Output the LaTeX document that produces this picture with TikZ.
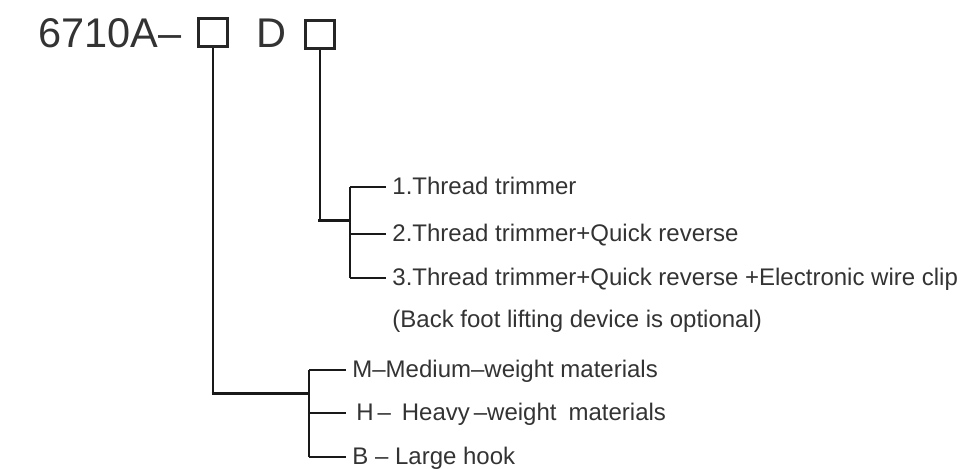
\documentclass[tikz,border=0pt]{standalone}
\usepackage{fontspec}
\setmainfont{Liberation Sans}
\usetikzlibrary{positioning}

\begin{document}
\begin{tikzpicture}[
      x=0.5pt, y=-0.5pt,
      every node/.style={text=black!80},
      titletext/.style={font=\fontsize{20.75pt}{24pt}\selectfont, inner sep=0pt},
      codebox/.style={draw=black!85, line width=1.5pt, minimum width=14.5pt, minimum height=14pt, inner sep=0pt},
      optlabel/.style={font=\fontsize{12pt}{14pt}\selectfont, anchor=west, inner ysep=0pt, inner xsep=3pt, text height=9pt, text depth=2pt},
      stem/.style={draw=black!90, line width=1pt},
      joinline/.style={draw=black!90, line width=1.5pt},
      branch/.style={draw=black!90, line width=1pt}
    ]
      \useasboundingbox (0,0) rectangle (961,468);

      % model code
      \node[titletext, anchor=base west] (model) at (38,47) {6710A–};
      \node[codebox] (boxA) at (213,32.5) {};
      \node[titletext, anchor=base west] (suffix) at (256,47) {D};
      \node[codebox] (boxD) at (319.5,34) {};

      \coordinate (upJoin) at (350,220);
      \coordinate (lowJoin) at (309,393);

      % options of the last box
      \node[optlabel] (opt1) at (386,187) {1.Thread trimmer};
      \node[optlabel] (opt2) at (386,234) {2.Thread trimmer+Quick reverse};
      \node[optlabel] (opt3) at (386,278) {3.Thread trimmer+Quick reverse +Electronic wire clip};
      \node[optlabel] (note) at (386,320) {(Back foot lifting device is optional)};

      % materials of the first box
      \node[optlabel] (matM) at (346,370) {M–Medium–weight materials};
      \node[optlabel] (matH) at (350,413) {H\,–\hspace{0.45em}Heavy\,–weight\hspace{0.5em}materials};
      \node[optlabel] (hookB) at (346,457) {B – Large hook};

      \draw[stem] (boxD.south) -- (boxD.south |- upJoin);
      \draw[joinline] ([xshift=-0.75pt]boxD.south |- upJoin) -- (upJoin);
      \draw[branch] (opt1.west -| upJoin) -- (opt3.west -| upJoin);
      \foreach \opt in {opt1,opt2,opt3}
        \draw[branch] (\opt.west -| upJoin) -- (\opt.west);

      \draw[stem] (boxA.south) -- (boxA.south |- lowJoin);
      \draw[joinline] ([xshift=-0.75pt]boxA.south |- lowJoin) -- (lowJoin);
      \draw[branch] (matM.west -| lowJoin) -- (hookB.west -| lowJoin);
      \foreach \mat in {matM,matH,hookB}
        \draw[branch] (\mat.west -| lowJoin) -- (matM.west |- \mat.west);
    \end{tikzpicture}
\end{document}
